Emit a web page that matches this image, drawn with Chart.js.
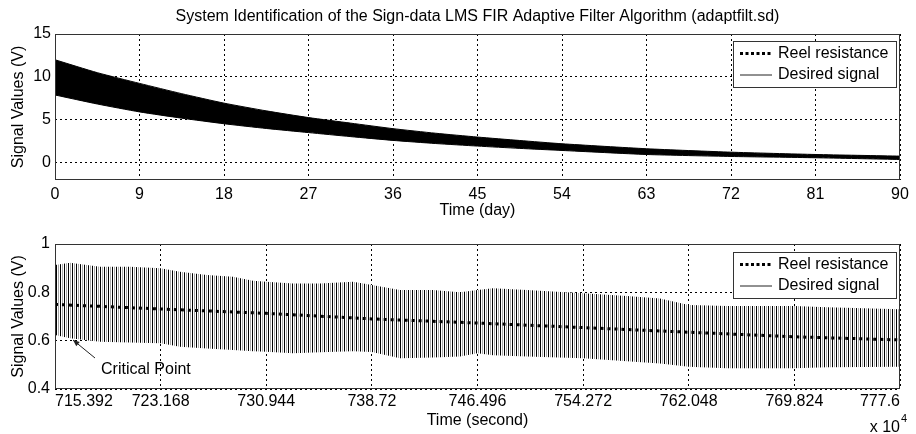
<!DOCTYPE html>
<html><head><meta charset="utf-8">
<script src="https://cdn.jsdelivr.net/npm/chart.js@4.4.1/dist/chart.umd.min.js"></script>
<style>
html,body{margin:0;padding:0;background:#fff;}
#wrap{position:relative;width:916px;height:434px;overflow:hidden;}
canvas{position:absolute;left:0;}
#c1{top:0;}
#c2{top:220px;}
</style></head><body>
<div id="wrap"><canvas id="c1" width="916" height="220"></canvas><canvas id="c2" width="916" height="214"></canvas></div>
<script>
// ---------- data ----------
const chartTitle = 'System Identification of the Sign-data LMS FIR Adaptive Filter Algorithm (adaptfilt.sd)';
const seriesNames = ['Reel resistance', 'Desired signal'];

// top panel (days)
const dayTicks = [0, 9, 18, 27, 36, 45, 54, 63, 72, 81, 90];
const topVoltTicks = [0, 5, 10, 15];
const topTime  = [0, 4.5, 9, 13.5, 18, 22.5, 27, 31.5, 36, 40.5, 45, 49.5, 54, 63, 72, 81, 90];
const topUpper = [12.0, 10.5, 9.25, 8.05, 6.95, 6.05, 5.27, 4.62, 3.98, 3.45, 3.0, 2.6, 2.22, 1.64, 1.24, 0.97, 0.78];
const topLower = [7.9, 6.85, 5.93, 5.2, 4.55, 4.0, 3.52, 3.05, 2.61, 2.25, 1.95, 1.68, 1.44, 0.97, 0.74, 0.59, 0.39];
const topReel  = [9.95, 8.7, 7.6, 6.6, 5.75, 5.0, 4.4, 3.85, 3.3, 2.85, 2.5, 2.15, 1.83, 1.3, 0.99, 0.78, 0.58];

// bottom panel (seconds x 10^4)
const secTicks = [715.392, 723.168, 730.944, 738.72, 746.496, 754.272, 762.048, 769.824, 777.6];
const secTickLabels = ['715.392', '723.168', '730.944', '738.72', '746.496', '754.272', '762.048', '769.824', '777.6'];
const botVoltTicks = [0.4, 0.6, 0.8, 1];
const botVoltLabels = ['0.4', '0.6', '0.8', '1'];
const botTime  = [715.392, 716.5, 718.7, 720.91, 723.168, 724.59, 726.58, 728.5, 729.97, 730.944, 732.91, 734.9, 737.33, 738.72, 740.79, 743.22, 745.21, 746.496, 747.64, 750.14, 754.272, 757.5, 759.93, 762.048, 764.86, 769.824, 772.23, 777.6];
const botUpper = [0.913, 0.922, 0.906, 0.906, 0.90, 0.885, 0.872, 0.865, 0.848, 0.844, 0.837, 0.837, 0.844, 0.83, 0.81, 0.81, 0.80, 0.81, 0.817, 0.81, 0.796, 0.785, 0.775, 0.748, 0.743, 0.743, 0.738, 0.73];
const botLower = [0.623, 0.61, 0.596, 0.592, 0.589, 0.575, 0.568, 0.561, 0.556, 0.554, 0.548, 0.552, 0.556, 0.553, 0.527, 0.53, 0.534, 0.548, 0.54, 0.534, 0.527, 0.515, 0.506, 0.492, 0.486, 0.486, 0.49, 0.492];
const botReel  = [0.750, 0.731, 0.713, 0.690, 0.673, 0.654, 0.635, 0.616, 0.603];

// ---------- helpers ----------
const FONT = "'Liberation Sans', Arial, sans-serif";
Chart.defaults.font.family = FONT;
Chart.defaults.color = '#000';
const pts = (xs, ys) => xs.map((x, i) => ({x: x, y: ys[i]}));

// striped fill to mimic the dense oscillation
const pc = document.createElement('canvas');
pc.width = 4; pc.height = 1;
const pctx = pc.getContext('2d');
['#000', '#fff', '#a8a8a8', '#fff'].forEach((c, i) => { pctx.fillStyle = c; pctx.fillRect(i, 0, 1, 1); });
const stripe = pctx.createPattern(pc, 'repeat');

function legendPlugin(boxTop) {
  return {
    id: 'boxLegend',
    afterDraw(chart) {
      const ctx = chart.ctx, a = chart.chartArea;
      ctx.save();
      // axes box
      ctx.strokeStyle = '#333'; ctx.lineWidth = 1; ctx.setLineDash([]);
      ctx.strokeRect(a.left + 0.5, a.top + 0.5, a.right - a.left - 1, a.bottom - a.top - 1);
      // legend box
      const bx = 733, by = boxTop, bw = 163, bh = 46;
      ctx.fillStyle = '#fff';
      ctx.fillRect(bx, by, bw, bh);
      ctx.strokeStyle = '#333';
      ctx.strokeRect(bx + 0.5, by + 0.5, bw, bh);
      const r1 = by + 12.5, r2 = by + 33.5;
      ctx.strokeStyle = '#000'; ctx.lineWidth = 3; ctx.setLineDash([3, 2.5]);
      ctx.beginPath(); ctx.moveTo(740, r1); ctx.lineTo(772, r1); ctx.stroke();
      ctx.lineWidth = 1; ctx.setLineDash([]); ctx.strokeStyle = '#222';
      ctx.beginPath(); ctx.moveTo(740, r2 + 0.5); ctx.lineTo(772, r2 + 0.5); ctx.stroke();
      ctx.fillStyle = '#000'; ctx.font = '16px ' + FONT; ctx.textBaseline = 'middle'; ctx.textAlign = 'left';
      ctx.fillText(seriesNames[0], 778, r1);
      ctx.fillText(seriesNames[1], 778, r2);
      ctx.restore();
    }
  };
}

const gridOpts = {color: '#000', lineWidth: 1, drawTicks: false};
const borderOpts = {display: false, dash: [2, 3]};

// ---------- top chart ----------
new Chart(document.getElementById('c1'), {
  type: 'line',
  data: {
    datasets: [
      {label: seriesNames[0], data: pts(topTime, topReel), borderColor: '#000', borderWidth: 3, borderDash: [3, 2.5], pointRadius: 0, fill: false, tension: 0.2},
      {label: 'lower', data: pts(topTime, topLower), borderColor: '#000', borderWidth: 1, pointRadius: 0, fill: false, tension: 0.2},
      {label: seriesNames[1], data: pts(topTime, topUpper), borderColor: '#000', borderWidth: 1, pointRadius: 0, fill: '-1', backgroundColor: '#000', tension: 0.2}
    ]
  },
  options: {
    responsive: false, animation: false, devicePixelRatio: 1,
    layout: {padding: {left: 0, right: 16, top: 0, bottom: 0}},
    plugins: {
      legend: {display: false}, tooltip: {enabled: false},
      title: {display: true, text: chartTitle, fullSize: false, font: {size: 16, weight: 'normal'}, color: '#000', padding: {top: 7.4, bottom: 7.4}}
    },
    scales: {
      x: {
        type: 'linear', min: 0, max: 90,
        afterBuildTicks: s => { s.ticks = dayTicks.map(v => ({value: v})); },
        afterFit: s => { s.height = 40; },
        ticks: {font: {size: 16}, padding: 4.5, maxRotation: 0, autoSkip: false, callback: v => String(v)},
        grid: gridOpts, border: borderOpts,
        title: {display: true, text: 'Time (day)', font: {size: 16}, padding: {top: 0, bottom: 0}}
      },
      y: {
        type: 'linear', min: -2, max: 15,
        afterBuildTicks: s => { s.ticks = topVoltTicks.map(v => ({value: v})); },
        afterFit: s => { s.width = 55; },
        ticks: {font: {size: 16}, padding: 4, autoSkip: false, callback: v => String(v)},
        grid: gridOpts, border: borderOpts,
        title: {display: true, text: 'Signal Values (V)', font: {size: 16}, padding: {top: 9, bottom: 0}}
      }
    }
  },
  plugins: [legendPlugin(41)]
});

// ---------- bottom chart ----------
const annotPlugin = {
  id: 'annot',
  afterDraw(chart) {
    const ctx = chart.ctx;
    ctx.save();
    // critical point arrow
    ctx.strokeStyle = '#222'; ctx.fillStyle = '#222'; ctx.lineWidth = 1;
    const x0 = 95, y0 = 138, x1 = 73, y1 = 120;
    ctx.beginPath(); ctx.moveTo(x0, y0); ctx.lineTo(x1, y1); ctx.stroke();
    const ang = Math.atan2(y1 - y0, x1 - x0);
    ctx.beginPath();
    ctx.moveTo(x1, y1);
    ctx.lineTo(x1 - 7 * Math.cos(ang - 0.4), y1 - 7 * Math.sin(ang - 0.4));
    ctx.lineTo(x1 - 7 * Math.cos(ang + 0.4), y1 - 7 * Math.sin(ang + 0.4));
    ctx.closePath(); ctx.fill();
    ctx.fillStyle = '#000';
    ctx.font = '16px ' + FONT; ctx.textBaseline = 'middle'; ctx.textAlign = 'left';
    ctx.fillText('Critical Point', 101, 150);
    // exponent
    ctx.textAlign = 'right';
    ctx.fillText('x 10', 900, 208);
    ctx.font = '11px ' + FONT; ctx.textAlign = 'left';
    ctx.fillText('4', 901, 199);
    ctx.restore();
  }
};

new Chart(document.getElementById('c2'), {
  type: 'line',
  data: {
    datasets: [
      {label: seriesNames[0], data: pts(secTicks, botReel), borderColor: '#000', borderWidth: 3, borderDash: [3, 4], pointRadius: 0, fill: false},
      {label: 'lower', data: pts(botTime, botLower), borderColor: 'rgba(0,0,0,0)', borderWidth: 0, pointRadius: 0, fill: false},
      {label: seriesNames[1], data: pts(botTime, botUpper), borderColor: 'rgba(0,0,0,0)', borderWidth: 0, pointRadius: 0, fill: '-1', backgroundColor: stripe}
    ]
  },
  options: {
    responsive: false, animation: false, devicePixelRatio: 1,
    layout: {padding: {left: 0, right: 16, top: 24, bottom: 0}},
    plugins: {legend: {display: false}, tooltip: {enabled: false}},
    scales: {
      x: {
        type: 'linear', min: 715.392, max: 777.6,
        afterBuildTicks: s => { s.ticks = secTicks.map(v => ({value: v})); },
        afterFit: s => { s.height = 45; },
        ticks: {font: {size: 16}, padding: 3, maxRotation: 0, autoSkip: false, align: 'inner',
                callback: (v, i) => secTickLabels[i]},
        grid: gridOpts, border: borderOpts,
        title: {display: true, text: 'Time (second)', font: {size: 16}, padding: {top: 0, bottom: 4}}
      },
      y: {
        type: 'linear', min: 0.4, max: 1,
        afterBuildTicks: s => { s.ticks = botVoltTicks.map(v => ({value: v})); },
        afterFit: s => { s.width = 55; },
        ticks: {font: {size: 16}, padding: 5, autoSkip: false, callback: (v, i) => botVoltLabels[i]},
        grid: gridOpts, border: borderOpts,
        title: {display: true, text: 'Signal Values (V)', font: {size: 16}, padding: {top: 9, bottom: 0}}
      }
    }
  },
  plugins: [legendPlugin(32), annotPlugin]
});
</script>
</body></html>
